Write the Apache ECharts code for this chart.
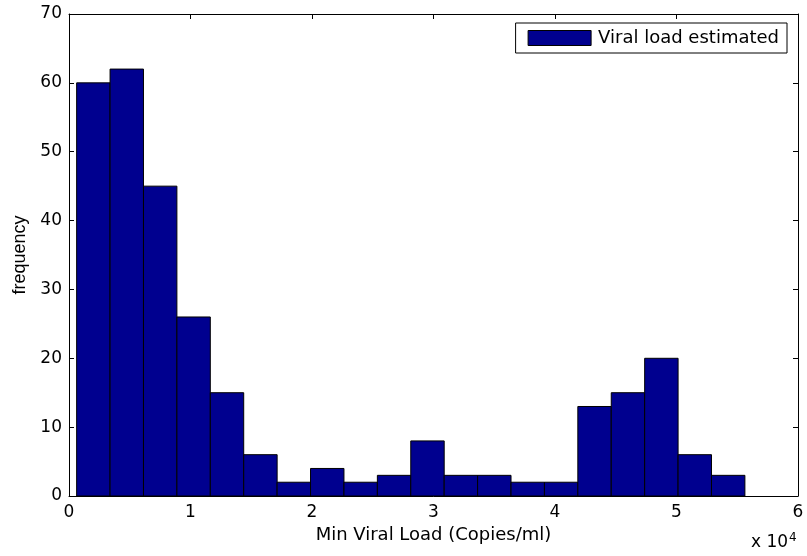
<!DOCTYPE html>
<html>
<head>
<meta charset="utf-8">
<script src="https://cdn.jsdelivr.net/npm/echarts@6/dist/echarts.min.js"></script>
<style>
  html, body { margin: 0; padding: 0; background: #fff; }
  #chart-panel { width: 807px; height: 556px; }
</style>
</head>
<body>
<div id="chart-panel"></div>
<script>
// histogram bins (x in units of 10^4 copies/ml)
var binEdges = [0.063, 0.338, 0.613, 0.888, 1.163, 1.438, 1.713, 1.988, 2.263, 2.538, 2.813,
    3.088, 3.363, 3.638, 3.913, 4.188, 4.463, 4.738, 5.013, 5.288, 5.563];
var counts = [60, 62, 45, 26, 15, 6, 2, 4, 2, 3, 8, 3, 3, 2, 2, 13, 15, 20, 6, 3];
var seriesName = 'Viral load estimated';
var xTitle = 'Min Viral Load (Copies/ml)';
var yTitle = 'frequency';

var barColor = '#00008f';
var font = 'DejaVu Sans';

var histData = counts.map(function (c, i) {
    return [binEdges[i], binEdges[i + 1], c];
});

var frameAxis = {
    axisLine: { show: true, onZero: false, lineStyle: { color: '#000', width: 1 } },
    axisTick: { show: true, inside: true, length: 5, lineStyle: { color: '#000' } },
    splitLine: { show: false }
};

var chartOption = {
    backgroundColor: '#fff',
    animation: false,
    grid: { left: 69, right: 9, top: 14, bottom: 60 },
    legend: {
        data: [seriesName],
        right: 20,
        top: 23,
        padding: [6, 8, 6, 12],
        borderColor: '#000',
        borderWidth: 1,
        backgroundColor: '#fff',
        icon: 'rect',
        itemWidth: 63,
        itemHeight: 15,
        itemGap: 0,
        itemStyle: { color: barColor, borderColor: '#000', borderWidth: 1 },
        textStyle: { fontFamily: font, fontSize: 18, color: '#000', padding: [0, 0, 0, 2] }
    },
    xAxis: [
        Object.assign({
            type: 'value', position: 'bottom', min: 0, max: 6, interval: 1,
            name: xTitle, nameLocation: 'middle', nameGap: 28,
            nameTextStyle: { fontFamily: font, fontSize: 18, color: '#000' },
            axisLabel: { fontFamily: font, fontSize: 17, color: '#000', margin: 8 }
        }, frameAxis),
        Object.assign({
            type: 'value', position: 'top', min: 0, max: 6, interval: 1,
            axisLabel: { show: false }
        }, frameAxis)
    ],
    yAxis: [
        Object.assign({
            type: 'value', position: 'left', min: 0, max: 70, interval: 10,
            name: yTitle, nameLocation: 'middle', nameGap: 40,
            nameTextStyle: { fontFamily: 'Liberation Sans', fontSize: 18, color: '#000' },
            axisLabel: { fontFamily: font, fontSize: 17, color: '#000', margin: 7 }
        }, frameAxis),
        Object.assign({
            type: 'value', position: 'right', min: 0, max: 70, interval: 10,
            axisLabel: { show: false }
        }, frameAxis)
    ],
    graphic: [{
        type: 'text',
        x: 751,
        y: 532,
        style: {
            text: 'x 10{sup|4}',
            fontFamily: font,
            fontSize: 17,
            fill: '#000',
            rich: {
                sup: { fontFamily: font, fontSize: 12, verticalAlign: 'top', padding: [0, 0, 10, 1] }
            }
        }
    }],
    series: [{
        name: seriesName,
        type: 'custom',
        xAxisIndex: 0,
        yAxisIndex: 0,
        itemStyle: { color: barColor },
        encode: { x: [0, 1], y: 2 },
        renderItem: function (params, api) {
            var p0 = api.coord([api.value(0), api.value(2)]);
            var p1 = api.coord([api.value(1), 0]);
            return {
                type: 'rect',
                shape: { x: p0[0], y: p0[1], width: p1[0] - p0[0], height: p1[1] - p0[1] },
                style: { fill: barColor, stroke: '#000', lineWidth: 1 }
            };
        },
        data: histData
    }]
};

var chartPanel = document.getElementById('chart-panel');
var myChart = echarts.init(chartPanel);
myChart.setOption(chartOption);
</script>
</body>
</html>
